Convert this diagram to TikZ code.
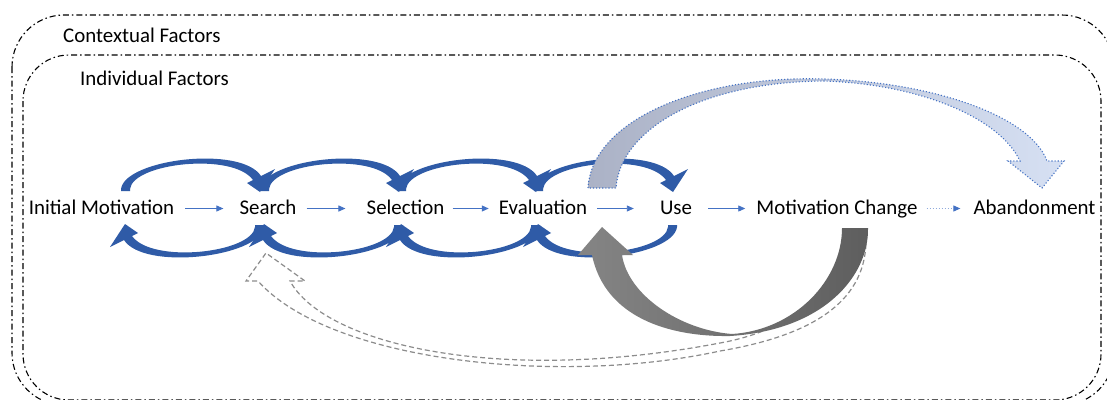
\documentclass[tikz,border=0pt]{standalone}
\usepackage{fontspec}
\setmainfont{Carlito}
\usetikzlibrary{arrows.meta}
\definecolor{arcblue}{HTML}{2F5BA7}
\definecolor{flowblue}{HTML}{4472C4}
\definecolor{dotblue}{HTML}{8FAADC}
\definecolor{slateA}{HTML}{ABB2C6}
\definecolor{slateB}{HTML}{D6E0F3}
\definecolor{grayA}{HTML}{858585}
\definecolor{grayB}{HTML}{5E5E5E}
\definecolor{dashgray}{HTML}{8C8C8C}
\tikzset{
  factorbox/.style={draw=black, line width=1.1pt, dash pattern=on 6pt off 3pt on 1.5pt off 3pt},
  boxlabel/.style={anchor=base west, inner sep=0pt, font=\fontsize{20.9}{25}\selectfont},
  stage/.style={anchor=base, inner xsep=0pt, inner ysep=0pt, text height=15pt, text depth=4pt, font=\fontsize{20.9}{25}\selectfont},
  flow/.style={draw=flowblue, line width=0.9pt, -{Triangle[length=7pt,width=6pt]}},
  dotflow/.style={draw=dotblue, line width=1pt, dotted, -{Triangle[length=7pt,width=6pt,color=flowblue,fill=flowblue]}},
  curvearc/.pic={
    \fill[arcblue] (-70,-16) -- (-70,-18) .. controls (-66,-48) and (50,-62) .. (70,-31)
      -- (84,-38) -- (69,-15) -- (56,-24) -- (62,-27)
      .. controls (42,-55) and (-58,-44) .. (-61,-18) -- (-61,-16) -- cycle;
  }
}
\begin{document}
\begin{tikzpicture}[x=1pt,y=-1pt]
\useasboundingbox (0,0) rectangle (1107,399);
\fill[white] (0,0) rectangle (1107,399);

% factor boxes
\draw[factorbox, rounded corners=52pt] (12,15) rectangle (1114,405);
\draw[factorbox, rounded corners=46pt] (23,55) rectangle (1101,400);
\node[boxlabel] (ctx) at (63,42) {Contextual Factors};
\node[boxlabel] (ind) at (80,85) {Individual Factors};

% stages
\node[stage] (im)  at (101.5,214) {Initial Motivation};
\node[stage] (se)  at (268,214) {Search};
\node[stage] (sel) at (405.5,214) {Selection};
\node[stage] (ev)  at (543,214) {Evaluation};
\node[stage] (use) at (676,214) {Use};
\node[stage] (mc)  at (837,214) {Motivation Change};
\node[stage] (ab)  at (1034.5,214) {Abandonment};

% straight flows
\draw[flow] ([xshift=11pt]im.east) -- ([xshift=-16pt]se.west);
\draw[flow] ([xshift=10pt]se.east) -- ([xshift=-21pt]sel.west);
\draw[flow] ([xshift=8pt]sel.east) -- ([xshift=-10pt]ev.west);
\draw[flow] ([xshift=10pt]ev.east) -- ([xshift=-26pt]use.west);
\draw[flow] ([xshift=16pt]use.east) -- ([xshift=-11pt]mc.west);
\draw[dotflow] ([xshift=9pt]mc.east) -- ([xshift=-13pt]ab.west);

% curved blue loops
\coordinate (t1) at (191,207);
\coordinate (t2) at (330,207);
\coordinate (t3) at (467,207);
\coordinate (t4) at (604,207);
\coordinate (b1) at (194,209);
\coordinate (b2) at (333,209);
\coordinate (b3) at (470,209);
\coordinate (b4) at (607,209);
\foreach \c in {t1,t2,t3,t4} { \pic at (\c) {curvearc}; }
\foreach \c in {b1,b2,b3,b4} { \pic[rotate=180] at (\c) {curvearc}; }

% dashed outline arrow back to Search
\draw[dashgray, line width=1.2pt, dash pattern=on 5pt off 3pt, line join=miter]
  (866,236) .. controls (868,300) and (815,335) .. (720,351)
  .. controls (560,386) and (330,362) .. (258,281)
  -- (246,281) -- (266,253) -- (305,281) -- (290,281)
  .. controls (325,345) and (500,385) .. (720,343)
  .. controls (760,336) and (790,320) .. (810,305)
  -- (850,260) -- (852,236) -- cycle;

% dark gray arrow back to Evaluation/Use
\shade[left color=grayA, right color=grayB]
  (842,228) -- (868,228) .. controls (869,275) and (825,330) .. (730,336)
  .. controls (670,337) and (605,318) .. (592,255)
  -- (578,255) -- (602,227) -- (633,255) -- (622,255)
  .. controls (628,295) and (680,330) .. (732,334)
  .. controls (795,330) and (842,280) .. (842,228) -- cycle;

% slate arrow Use -> Abandonment
\path[left color=slateA, right color=slateB, draw=flowblue, line width=1.1pt, dotted]
  (588,188) .. controls (592,120) and (700,75) .. (824,79)
  .. controls (930,82) and (1030,115) .. (1047,161)
  -- (1064,161) -- (1042,188) -- (1008,161) -- (1020,161)
  .. controls (1000,118) and (920,84) .. (824,81)
  .. controls (700,82) and (620,130) .. (616,188) -- cycle;
\end{tikzpicture}
\end{document}
